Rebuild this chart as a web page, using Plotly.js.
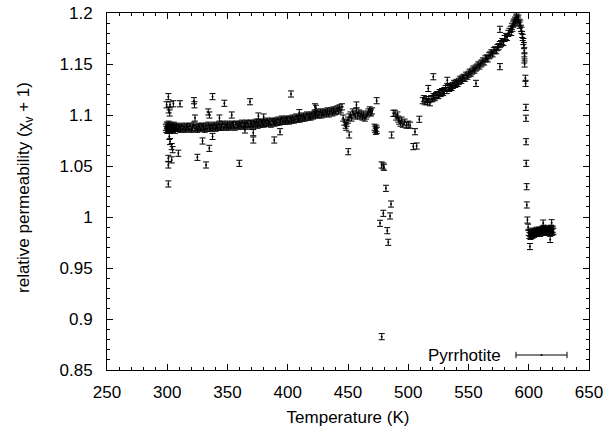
<!DOCTYPE html>
<html>
<head>
<meta charset="utf-8">
<script src="https://cdn.plot.ly/plotly-3.0.1.min.js"></script>
<style>html,body{margin:0;padding:0;background:#fff;}#chart{width:609px;height:432px;}</style>
</head>
<body>
<div id="chart"></div>
<script>
// ---- data ----
const bandTemp = [298.8,299.2,299.6,300,300.3,300.6,301,301.4,301.8,302.2,302.6,303,303.5,304,304.5,305,305.5,306,306.5,307,307.5,308,
309,310,311,312,313,314,315,316,317,318,319,320,321,322,323,324,325,326,327,328,
329,330,331,332,333,334,335,336,337,338,339,340,341,342,343,344,345,346,347,348,
349,350,351,352,353,354,355,356,357,358,359,360,361,362,363,364,365,366,367,368,
369,370,371,372,373,374,375,376,377,378,379,380,381,382,383,384,385,386,387,388,
389,390,391,392,393,394,395,396,397,398,399,400,401,402,403,404,405,406,407,408,
409,410,411,412,413,414,415,416,417,418,419,420,421,422,423,424,425,426,427,428,
429,430,431,432,433,434,435,436,437,438,439,440,441,442,443,444,445];
const bandPerm = [1.088,1.086,1.090,1.085,1.089,1.087,1.091,1.086,1.088,1.090,1.085,1.088,1.087,1.089,1.086,1.088,1.090,1.087,1.085,1.088,1.089,1.087,
1.087,1.088,1.086,1.089,1.087,1.088,1.086,1.089,1.088,1.087,1.089,1.086,1.088,1.090,1.087,1.088,1.086,1.089,1.088,1.087,
1.089,1.088,1.086,1.089,1.087,1.090,1.088,1.087,1.089,1.088,1.090,1.087,1.089,1.088,1.090,1.088,1.089,1.091,1.088,1.090,
1.089,1.091,1.088,1.090,1.089,1.091,1.090,1.088,1.091,1.090,1.089,1.091,1.090,1.092,1.089,1.091,1.090,1.092,1.091,1.089,
1.092,1.091,1.090,1.092,1.091,1.093,1.090,1.092,1.091,1.093,1.092,1.091,1.093,1.092,1.094,1.092,1.093,1.091,1.094,1.093,
1.092,1.094,1.093,1.095,1.093,1.094,1.096,1.094,1.095,1.094,1.096,1.095,1.094,1.096,1.095,1.097,1.095,1.096,1.098,1.096,
1.097,1.096,1.098,1.097,1.099,1.097,1.098,1.100,1.098,1.099,1.098,1.100,1.099,1.101,1.100,1.102,1.100,1.101,1.103,1.100,
1.102,1.101,1.103,1.102,1.104,1.101,1.103,1.104,1.102,1.105,1.103,1.104,1.106,1.104,1.107,1.105,1.108];

const midTemp = [446,447,448,448.5,449,450,451,452,453,454,455,456,457,458,459,460,461,462,463,464,465,466,467,468,469,470,472,472.5,473,473.5,474];
const midPerm = [1.097,1.093,1.090,1.088,1.092,1.095,1.098,1.100,1.097,1.103,1.101,1.099,1.104,1.100,1.102,1.099,1.101,1.098,1.100,1.097,1.099,1.101,1.103,1.105,1.102,1.104,1.088,1.086,1.084,1.087,1.085];

const dipTemp = [477.9,479.9,479.3,481.5,485.7,479.3,484.9,476.6,482.6,483.4,478,486.2];
const dipPerm = [1.051,1.0487,1.050,1.0281,1.0127,1.0036,1.001,0.9938,0.9866,0.9752,0.8827,1.0804];

const shoulderTemp = [487.6,489,490,491,491.7,492.5,493.5,494.5,495.5,497,498.5,500,501.5,505.6,509.2,504.2,507];
const shoulderPerm = [1.1017,1.1017,1.098,1.100,1.096,1.094,1.092,1.095,1.091,1.093,1.090,1.091,1.090,1.0836,1.0958,1.069,1.0696];

const riseTemp = [512,513,514,515,516,517,518,519,
520,521,522,523,524,525,526,527,528,529,530,531,532,533,534,535,536,537,538,539,
540,541,542,543,544,545,546,547,548,549,550,551,552,553,554,555,556,557,558,559,
560,561,562,563,564,565,566,567,568,569,570,571,572,573,574,575,576,577,578,579,
580,581,582,583,584,585,585.5,586,586.5,587,587.5,588,588.5,589,589.5,590,590.5,591,591.5,592,592.5,593,593.5,594,594.5,595,595.5,596,596.3,596.5];
const risePerm = [1.114,1.116,1.113,1.115,1.113,1.115,1.112,1.116,
1.116,1.118,1.117,1.119,1.120,1.119,1.122,1.121,1.123,1.122,1.124,1.126,1.124,1.127,1.126,1.128,1.127,1.129,1.131,1.130,
1.132,1.131,1.133,1.135,1.134,1.136,1.137,1.136,1.139,1.138,1.140,1.142,1.141,1.143,1.145,1.144,1.146,1.147,1.149,1.148,
1.150,1.151,1.153,1.152,1.155,1.156,1.155,1.158,1.159,1.161,1.160,1.163,1.164,1.163,1.166,1.167,1.169,1.170,1.172,1.171,
1.175,1.177,1.176,1.180,1.182,1.184,1.181,1.187,1.185,1.189,1.191,1.190,1.193,1.192,1.195,1.196,1.194,1.193,1.195,1.191,1.188,1.190,1.185,1.183,1.179,1.176,1.172,1.168,1.163,1.158];

const dropTemp = [596.3,596.6,597.2,597.4,597.6,597.7,597.8,597.9,598.3,598.4,598.9];
const dropPerm = [1.154,1.150,1.136,1.131,1.1075,1.0968,1.0738,1.0526,1.0297,1.0118,0.997];

const tailTemp = [599.5,600,600.5,601,601.5,602,602.5,603,603.5,604,604.5,605,605.5,606,606.5,607,607.5,608,608.5,609,609.5,610,610.5,611,611.5,612,612.5,613,613.5,614,614.5,615,615.5,616,616.5,617,617.5,618,618.5,619,619.5,620,620.5];
const tailPerm = [0.990,0.985,0.982,0.984,0.981,0.983,0.986,0.982,0.984,0.985,0.983,0.986,0.984,0.985,0.987,0.984,0.986,0.985,0.987,0.986,0.984,0.987,0.986,0.988,0.985,0.987,0.989,0.986,0.988,0.987,0.985,0.988,0.986,0.988,0.987,0.985,0.988,0.986,0.989,0.987,0.985,0.988,0.986];

const outlierTemp = [300.9,299.5,302.3,305.1,310.6,301.2,302,322.2,322.6,337.6,334,335,323,
337.6,329.3,334.9,301.7,302.3,303.7,304.5,309.2,300.9,303.7,300.9,325,332.2,300.9,
347.4,368.7,402.7,423.4,409.6,353.5,375.6,343.3,380,364.5,371.4,371.4,388.8,393.6,359.8,
422.6,457,473.8,451,450.2,468.8,
576.1,576.1,556.2,532.4,520.8,516.6,
601,617.8,612,619];
const outlierPerm = [1.118,1.110,1.110,1.111,1.111,1.105,1.102,1.114,1.110,1.118,1.103,1.100,1.097,
1.079,1.0745,1.0673,1.079,1.074,1.069,1.066,1.0625,1.0575,1.056,1.051,1.0585,1.051,1.0324,
1.1115,1.113,1.1206,1.1066,1.1023,1.100,1.099,1.097,1.098,1.0853,1.0827,1.0755,1.0755,1.0836,1.0526,
1.108,1.1098,1.114,1.0804,1.064,1.103,
1.184,1.1474,1.131,1.134,1.1375,1.126,
0.971,0.978,0.994,0.9944];

const errorHalfWidth = 0.003;
const seriesName = 'Pyrrhotite';
const xTitle = 'Temperature (K)';
const yTitle = 'relative permeability (χ<sub>v</sub> + 1)';
const xTickVals = [250,300,350,400,450,500,550,600,650];
const xTickText = ['250','300','350','400','450','500','550','600','650'];
const yTickVals = [0.85,0.9,0.95,1.0,1.05,1.1,1.15,1.2];
const yTickText = ['0.85','0.9','0.95','1','1.05','1.1','1.15','1.2'];

// ---- build ----
const temps = [].concat(bandTemp, midTemp, dipTemp, shoulderTemp, riseTemp, dropTemp, tailTemp, outlierTemp);
const perms = [].concat(bandPerm, midPerm, dipPerm, shoulderPerm, risePerm, dropPerm, tailPerm, outlierPerm);

const FONT = 'Liberation Sans, Arial, Helvetica, sans-serif';
const trace = {
  type: 'scatter', mode: 'markers', name: seriesName,
  x: temps, y: perms,
  marker: {color: '#000', size: 2, symbol: 'circle'},
  error_y: {type: 'constant', value: errorHalfWidth, color: '#000', thickness: 1, width: 3},
  showlegend: false, hoverinfo: 'skip'
};

const axisCommon = {
  showline: true, linecolor: '#000', linewidth: 1, mirror: 'allticks',
  ticks: 'inside', ticklen: 6, tickcolor: '#000', tickwidth: 1,
  showgrid: false, zeroline: false,
  tickfont: {family: FONT, size: 17, color: '#000'},
  tickmode: 'array'
};

// legend sample (key) geometry in paper units
const keyY = 0.042, keyX0 = 0.8485, keyX1 = 0.9544, keyCap = 0.009;
const layout = {
  width: 609, height: 432,
  margin: {l: 107, r: 20, t: 13, b: 62, pad: 0},
  paper_bgcolor: '#fff', plot_bgcolor: '#fff',
  showlegend: false,
  xaxis: Object.assign({}, axisCommon, {
    range: [250, 650], tickvals: xTickVals, ticktext: xTickText,
    ticklabelstandoff: 7,
    minor: {ticks: 'inside', ticklen: 3, dtick: 10, tick0: 250, tickcolor: '#000', showgrid: false},
    title: {text: xTitle, font: {family: FONT, size: 17, color: '#000'}, standoff: 9}
  }),
  yaxis: Object.assign({}, axisCommon, {
    range: [0.85, 1.2], tickvals: yTickVals, ticktext: yTickText,
    ticklabelstandoff: 10,
    minor: {ticks: 'inside', ticklen: 3, dtick: 0.01, tick0: 0.85, tickcolor: '#000', showgrid: false}
  }),
  annotations: [
    {xref: 'paper', yref: 'paper', x: -0.170, y: 0.51, xanchor: 'center', yanchor: 'middle', textangle: -90,
     text: yTitle, showarrow: false, font: {family: FONT, size: 17, color: '#000'}},
    {xref: 'paper', yref: 'paper', x: 0.8216, y: keyY, xanchor: 'right', yanchor: 'middle',
     text: seriesName, showarrow: false, font: {family: FONT, size: 17, color: '#000'}}
  ],
  shapes: [
    {type: 'line', xref: 'paper', yref: 'paper', x0: keyX0, x1: keyX1, y0: keyY, y1: keyY, line: {color: '#000', width: 1}},
    {type: 'line', xref: 'paper', yref: 'paper', x0: keyX0, x1: keyX0, y0: keyY - keyCap, y1: keyY + keyCap, line: {color: '#000', width: 1}},
    {type: 'line', xref: 'paper', yref: 'paper', x0: keyX1, x1: keyX1, y0: keyY - keyCap, y1: keyY + keyCap, line: {color: '#000', width: 1}},
    {type: 'circle', xref: 'paper', yref: 'paper', x0: (keyX0 + keyX1) / 2 - 0.002, x1: (keyX0 + keyX1) / 2 + 0.002, y0: keyY - 0.003, y1: keyY + 0.003, fillcolor: '#000', line: {color: '#000', width: 0}}
  ]
};

Plotly.newPlot('chart', [trace], layout, {staticPlot: true, displayModeBar: false});
</script>
</body>
</html>
